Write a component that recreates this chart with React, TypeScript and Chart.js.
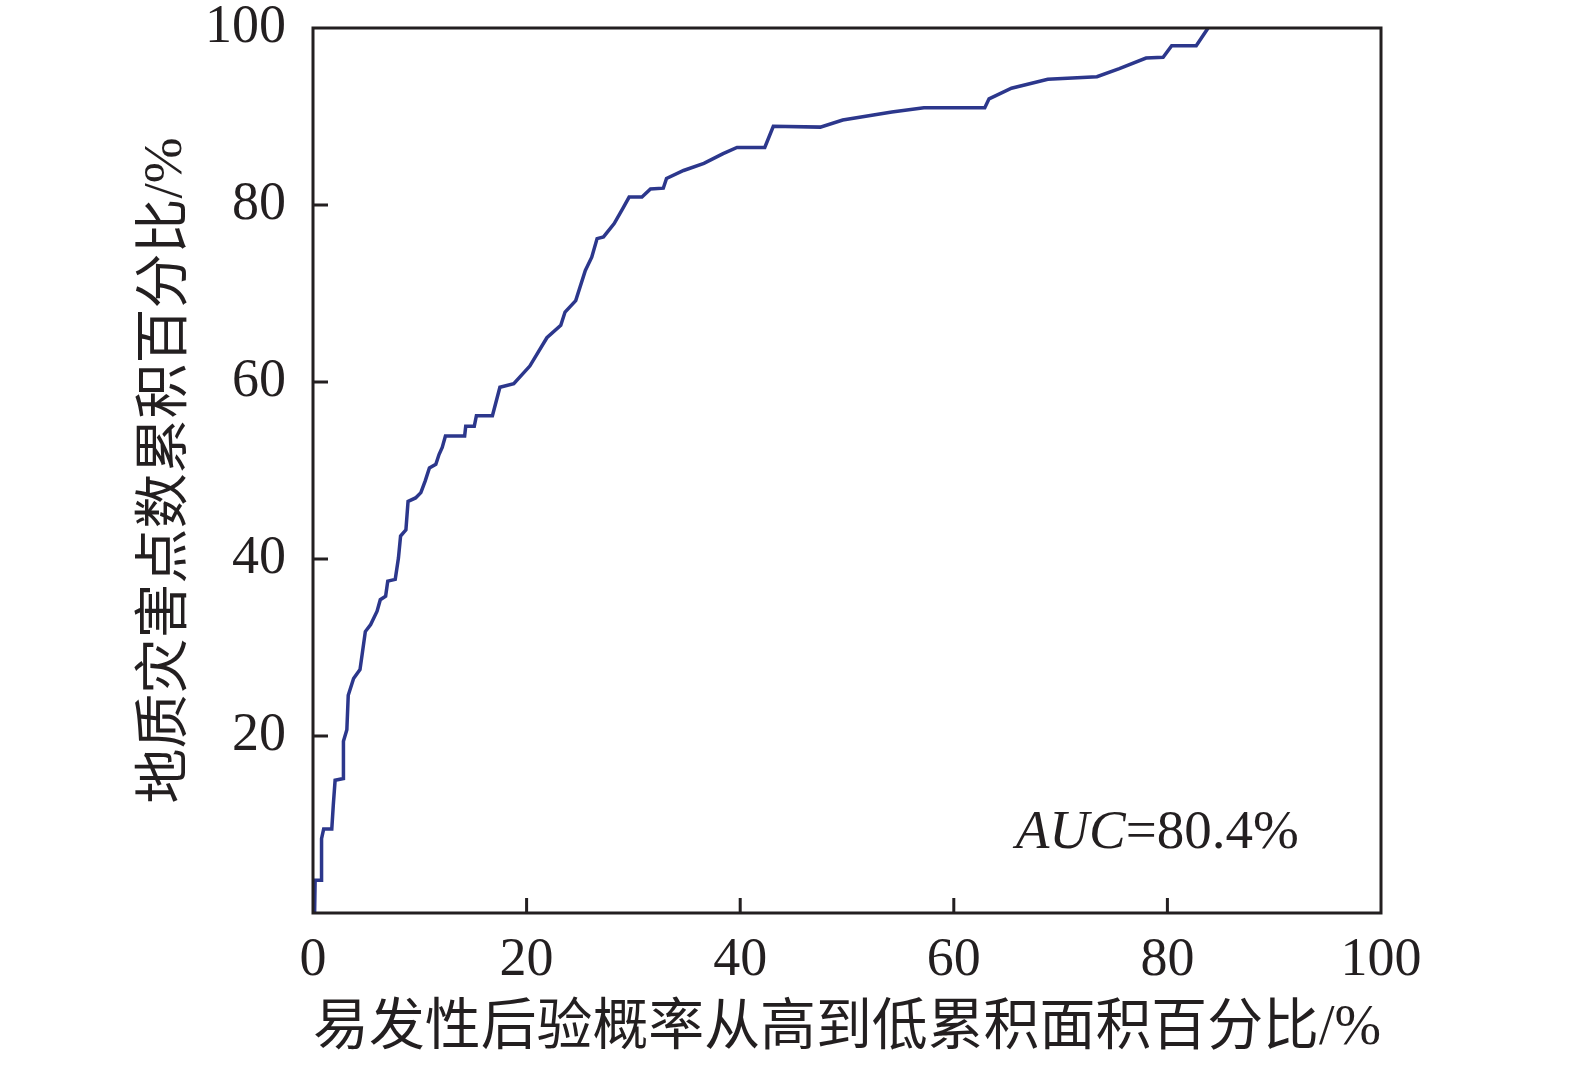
import React, { useEffect, useRef } from "react";
import { Chart, registerables } from "chart.js";

Chart.register(...registerables);

// Cumulative area percentage (x) and cumulative hazard-point percentage (y)
const areaPct: number[] = [
  0.15, 0.2, 0.8, 0.8, 1.0, 1.76, 1.9, 2.07, 2.85, 2.85, 3.17, 3.3, 3.8, 4.4, 4.6, 4.9, 5.4, 6.0, 6.3, 6.8,
  7.0, 7.7, 8.0, 8.2, 8.7, 8.9, 9.6, 10.1, 10.5, 10.9, 11.5, 11.8, 12.1, 12.4, 14.2, 14.3, 15.1, 15.3, 16.8, 17.5,
  18.8, 20.3, 21.9, 23.2, 23.6, 24.6, 25.5, 26.1, 26.6, 27.2, 28.2, 29.0, 29.6, 30.8, 31.6, 32.8, 33.1, 34.7, 36.6, 38.4,
  39.7, 42.3, 43.1, 47.5, 49.6, 54.2, 57.2, 62.9, 63.3, 65.4, 68.8, 73.4, 75.5, 78.0, 79.6, 80.4, 82.7, 83.7, 83.8,
];
const hazardPct: number[] = [
  0, 3.7, 3.7, 8.4, 9.5, 9.5, 12.2, 15.0, 15.2, 19.4, 20.7, 24.6, 26.5, 27.5, 29.2, 31.8, 32.6, 34.1, 35.4, 35.8,
  37.5, 37.7, 40.1, 42.6, 43.3, 46.5, 46.9, 47.5, 48.8, 50.3, 50.7, 51.8, 52.6, 53.9, 53.9, 55.0, 55.0, 56.2, 56.2, 59.4,
  59.8, 61.8, 65.0, 66.4, 67.9, 69.2, 72.6, 74.1, 76.2, 76.4, 77.9, 79.6, 80.9, 80.9, 81.8, 81.9, 83.0, 83.9, 84.7, 85.8,
  86.5, 86.5, 88.9, 88.8, 89.6, 90.5, 91.0, 91.0, 92.0, 93.2, 94.2, 94.5, 95.4, 96.6, 96.7, 98.0, 98.0, 99.8, 100,
];
const tickValues: number[] = [20, 40, 60, 80];
const xTitle = "易发性后验概率从高到低累积面积百分比/%";
const yTitle = "地质灾害点数累积百分比/%";
const aucLabel = "AUC";
const aucValue = "=80.4%";

const INK = "#231f20";
const LINE = "#2c378c";
const SERIF = "'Liberation Serif', 'Times New Roman', serif";
const TITLE_FONT = "'Liberation Serif', 'Noto Sans CJK SC', serif";

const framePlugin = {
  id: "frame",
  afterDraw(chart: any) {
    const { ctx, chartArea, scales } = chart;
    const xs = scales.x;
    const ys = scales.y;
    ctx.save();
    ctx.strokeStyle = INK;
    ctx.lineWidth = 3;
    ctx.strokeRect(chartArea.left, chartArea.top, chartArea.right - chartArea.left, chartArea.bottom - chartArea.top);
    ctx.beginPath();
    for (const v of tickValues) {
      const px = xs.getPixelForValue(v);
      ctx.moveTo(px, chartArea.bottom);
      ctx.lineTo(px, chartArea.bottom - 15);
      const py = ys.getPixelForValue(v);
      ctx.moveTo(chartArea.left, py);
      ctx.lineTo(chartArea.left + 15, py);
    }
    ctx.stroke();
    // AUC annotation
    const ax = xs.getPixelForValue(65.8);
    const ay = ys.getPixelForValue(7.4);
    ctx.fillStyle = INK;
    ctx.textBaseline = "alphabetic";
    ctx.textAlign = "left";
    ctx.font = `italic 55px ${SERIF}`;
    ctx.fillText(aucLabel, ax, ay);
    const w = ctx.measureText(aucLabel).width;
    ctx.font = `55px ${SERIF}`;
    ctx.fillText(aucValue, ax + w, ay);
    ctx.restore();
  },
};

export default function App() {
  const ref = useRef<HTMLCanvasElement>(null);
  useEffect(() => {
    document.body.style.margin = "0";
    const canvas = ref.current!;
    const data = areaPct.map((x, i) => ({ x, y: hazardPct[i] }));
    const chart = new Chart(canvas, {
      type: "scatter",
      data: {
        datasets: [
          {
            data,
            showLine: true,
            borderColor: LINE,
            backgroundColor: LINE,
            borderWidth: 3.5,
            pointRadius: 0,
            tension: 0,
          },
        ],
      },
      options: {
        responsive: false,
        animation: false,
        layout: { padding: { top: 28, right: 194, left: 0, bottom: 0 } },
        plugins: { legend: { display: false }, tooltip: { enabled: false } },
        scales: {
          x: {
            type: "linear",
            min: 0,
            max: 100,
            border: { display: false },
            grid: { display: false, drawTicks: false },
            ticks: {
              stepSize: 20,
              padding: 15,
              color: INK,
              font: { family: SERIF, size: 54 },
              maxRotation: 0,
            },
            title: {
              display: true,
              text: xTitle,
              color: INK,
              font: { family: TITLE_FONT, size: 56 },
              padding: { top: 0, bottom: 3 },
            },
            afterFit(scale: any) {
              scale.height = 153;
              scale.paddingLeft = 0;
              scale.paddingRight = 0;
            },
          },
          y: {
            type: "linear",
            min: 0,
            max: 100,
            border: { display: false },
            grid: { display: false, drawTicks: false },
            ticks: {
              stepSize: 20,
              padding: 27,
              color: INK,
              font: { family: SERIF, size: 54 },
              callback: (v: any) => (v === 0 ? "" : String(v)),
            },
            title: {
              display: true,
              text: yTitle,
              color: INK,
              font: { family: TITLE_FONT, size: 55 },
              padding: { top: 134, bottom: 0 },
            },
            afterFit(scale: any) {
              scale.width = 313;
              scale.paddingTop = 0;
              scale.paddingBottom = 0;
            },
          },
        },
      },
      plugins: [framePlugin],
    });
    return () => chart.destroy();
  }, []);
  return <canvas ref={ref} width={1575} height={1066} style={{ display: "block" }} />;
}
